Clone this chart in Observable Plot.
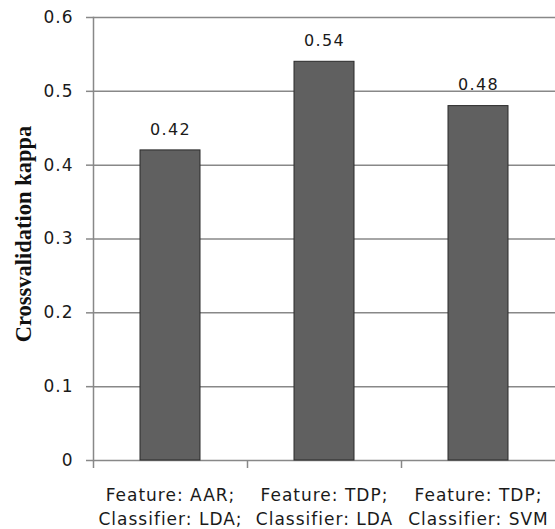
<!DOCTYPE html>
<html><head><meta charset="utf-8">
<script src="https://cdn.jsdelivr.net/npm/d3@7"></script>
<script src="https://cdn.jsdelivr.net/npm/@observablehq/plot@0.6"></script>
<style>
body{margin:0;background:#fff}
.kchart g[aria-label="x-axis tick label"] text{letter-spacing:1px}
.kchart g[aria-label="y-axis tick label"] text{letter-spacing:1px}
.kchart g.vlabels text{letter-spacing:1.4px}
</style>
</head><body><div id="chart"></div>
<script>
const categories = ["Feature: AAR;\nClassifier: LDA;", "Feature: TDP;\nClassifier: LDA", "Feature: TDP;\nClassifier: SVM"];
const kappa = [0.42, 0.54, 0.48];
const yTicks = [0, 0.1, 0.2, 0.3, 0.4, 0.5, 0.6];
const yLabel = "Crossvalidation kappa";

const data = categories.map((c, i) => ({cat: c, v: kappa[i]}));
const font = "'DejaVu Sans', sans-serif";

const chart = Plot.plot({
  width: 555, height: 529,
  className: "kchart",
  marginTop: 17, marginBottom: 69, marginLeft: 93, marginRight: 0,
  style: {fontFamily: font, fontSize: "17px", color: "#1a1a1a", background: "#fff"},
  x: {domain: categories, paddingInner: 0.61, paddingOuter: 0.305, axis: null},
  y: {domain: [0, 0.6], axis: null},
  marks: [
    Plot.ruleY(yTicks, {stroke: "#888", strokeWidth: 1.5}),
    Plot.axisY({ticks: yTicks, tickSize: 7, tickPadding: 13, stroke: "#888", strokeWidth: 1.5, strokeOpacity: 1,
      tickFormat: d => d === 0 ? "0" : d.toFixed(1), fontSize: 17, fill: "#1a1a1a", label: null}),
    Plot.frame({anchor: "left", stroke: "#888", strokeWidth: 1.5}),
    Plot.axisX({ticks: categories.slice(0, 1), tickSize: 8, dx: -77, tickFormat: () => "", stroke: "#888", strokeWidth: 1.5, label: null}),
    Plot.axisX({ticks: categories.slice(0, 2), tickSize: 8, dx: 77, tickFormat: () => "", stroke: "#888", strokeWidth: 1.5, label: null}),
    Plot.axisX({tickSize: 0, tickPadding: 24, lineHeight: 1.38, fontSize: 17, fill: "#1a1a1a", label: null}),
    Plot.barY(data, {x: "cat", y: "v", fill: "#606060", stroke: "#2a2a2a", strokeWidth: 1}),
    Plot.text(data, {x: "cat", y: "v", text: d => d.v.toFixed(2), dy: -21, fontSize: 16, fill: "#1a1a1a", className: "vlabels"}),
    Plot.text([yLabel], {frameAnchor: "left", textAnchor: "middle", dx: -70, dy: -5, rotate: -90, text: d => d,
      fontFamily: "'Liberation Serif', 'DejaVu Serif', serif", fontWeight: "bold", fontSize: 22.5, fill: "#111"})
  ]
});
document.getElementById("chart").appendChild(chart);
</script></body></html>
